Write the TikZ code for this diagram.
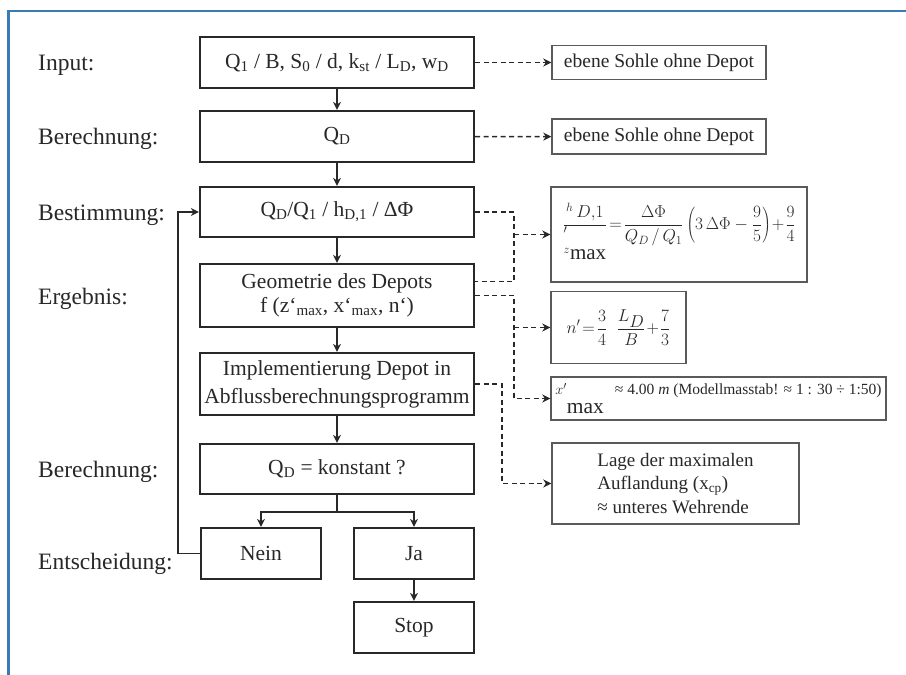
\documentclass[tikz,border=0pt]{standalone}
\usepackage{fontspec}
\setmainfont{Liberation Serif}
\usetikzlibrary{arrows.meta,calc}
\definecolor{frameblue}{RGB}{60,122,180}
\definecolor{ink}{RGB}{40,40,40}
\definecolor{gborder}{RGB}{90,90,90}
\begin{document}
\begin{tikzpicture}[x=1pt,y=-1pt,
  mainbox/.style={draw=ink, line width=2.2pt, minimum width=274pt, inner sep=0pt, text=ink,
    font=\fontsize{21.5}{24}\selectfont, align=center},
  smallbox/.style={mainbox, minimum width=120.5pt, minimum height=51pt},
  sidebox/.style={draw=gborder, line width=1.4pt, inner sep=0pt, text=ink},
  lbl/.style={anchor=base west, inner sep=0pt, text=ink, font=\fontsize{23.5}{26}\selectfont},
  arr/.style={draw=ink, line width=1.6pt, -{Stealth[length=8pt,width=8pt,inset=2.5pt]}},
  dsh/.style={draw=ink, line width=1.5pt, dash pattern=on 5pt off 3.5pt},
  darr/.style={dsh, -{Stealth[length=8pt,width=8pt,inset=2.5pt]}}
]
\fill[white] (0,0) rectangle (906,675);
\useasboundingbox (0,0) rectangle (906,675);
\draw[frameblue, line width=2.6pt, line join=miter] (8.7,680) -- (8.7,11) -- (910,11);

% labels
\node[lbl] (lInput) at (38,70) {Input:};
\node[lbl] (lBer1) at (38,144.5) {Berechnung:};
\node[lbl] (lBest) at (38,220) {Bestimmung:};
\node[lbl] (lErg) at (38,304) {Ergebnis:};
\node[lbl] (lBer2) at (38,477) {Berechnung:};
\node[lbl] (lEnt) at (38,569) {Entscheidung:};

% main column
\node[mainbox, minimum height=51pt] (b1) at (337,62.5)
  {Q\textsubscript{1} / B, S\textsubscript{0} / d, k\textsubscript{st} / L\textsubscript{D}, w\textsubscript{D}};
\node[mainbox, minimum height=51pt] (b2) at (337,136.5) {Q\textsubscript{D}};
\node[mainbox, minimum height=50pt] (b3) at (337,212)
  {Q\textsubscript{D}/Q\textsubscript{1} / h\textsubscript{D,1} / ΔΦ};
\node[mainbox, minimum height=63pt, font=\fontsize{21.5}{23.5}\selectfont] (b4) at (337,295.5)
  {Geometrie des Depots\\f (z‘\textsubscript{max}, x‘\textsubscript{max}, n‘)};
\node[mainbox, minimum height=62pt, font=\fontsize{21.5}{28}\selectfont] (b5) at (337,384)
  {Implementierung Depot in\\Abflussberechnungsprogramm};
\node[mainbox, minimum height=50pt] (b6) at (337,469) {Q\textsubscript{D} = konstant ?};
\node[smallbox] (nein) at (261,553.5) {Nein};
\node[smallbox] (ja) at (414,553.5) {Ja};
\node[smallbox] (stop) at (414,627.5) {Stop};

% side boxes
\node[sidebox, minimum width=214pt, minimum height=34pt, font=\fontsize{19.5}{22}\selectfont] (e1) at (659,62.5)
  {ebene Sohle ohne Depot};
\node[sidebox, minimum width=214pt, minimum height=35pt, font=\fontsize{19.5}{22}\selectfont] (e2) at (659,136.6)
  {ebene Sohle ohne Depot};
\node[sidebox, minimum width=256pt, minimum height=95pt, font=\fontsize{16.5}{19}\selectfont] (f1) at (679,234.5)
  {$\displaystyle \frac{{}^{h}\,D{,}1}{\begin{array}{@{}l@{}}\rule{0pt}{13pt}{}'\\[1pt] {}^{z}\hbox{\fontsize{21}{21}\selectfont max}\end{array}}
   \!=\! \frac{\Delta\Phi}{Q_D\,/\,Q_1}\left(3\,\Delta\Phi - \frac{9}{5}\right)\!+\!\frac{9}{4}$};
\node[sidebox, minimum width=135pt, minimum height=72pt, font=\fontsize{17.5}{20}\selectfont] (f2) at (618.5,327.5)
  {$\displaystyle n' \!=\! \frac{3}{4}\;\;\frac{L_{\textstyle D}}{B}\!+\!\frac{7}{3}$};
\node[sidebox, minimum width=335pt, minimum height=43pt, font=\fontsize{15.5}{18}\selectfont] (f3) at (718.5,398.5)
  {$x'$\raisebox{-19pt}{\fontsize{21.5}{22}\selectfont max}\hspace{11pt}≈ 4.00 \textit{m} (Modellmasstab! ≈ 1 : 30 ÷ 1:50)};
\node[sidebox, minimum width=247pt, minimum height=81pt, font=\fontsize{19}{23.3}\selectfont, align=left] (f4) at (675.5,483.5)
  {Lage der maximalen\\Auflandung (x\textsubscript{cp})\\≈ unteres Wehrende};

% solid flow
\draw[arr] (b1) -- (b2);
\draw[arr] (b2) -- (b3);
\draw[arr] (b3) -- (b4);
\draw[arr] (b4) -- (b5);
\draw[arr] (b5) -- (b6);
\draw[draw=ink, line width=1.6pt] (b6.south) -- ++(0,17) coordinate (br);
\draw[arr] (br) -| (nein.north);
\draw[arr] (br) -| (ja.north);
\draw[arr] (ja) -- (stop);
\draw[arr] (nein.west) -- ++(-21.5,0) |- (b3.west);

% dashed connectors
\draw[darr] (b1.east) -- (e1.west);
\draw[darr] (b2.east) -- (e2.west);
\coordinate (b4up) at ($(b4.east)+(0,-14)$);
\draw[dsh] (b3.east) -- ++(39,0) coordinate (v1) -- (v1 |- b4up) -- (b4up);
\coordinate (v1m) at (v1 |- f1.west);
\draw[darr] (v1m) -- (f1.west);
\draw[darr] (b4.east) -- ++(39,0) coordinate (v2) |- (f3.west);
\coordinate (v2m) at (v2 |- f2.west);
\draw[darr] (v2m) -- (f2.west);
\draw[darr] (b5.east) -- ++(27,0) |- (f4.west);
\end{tikzpicture}
\end{document}
